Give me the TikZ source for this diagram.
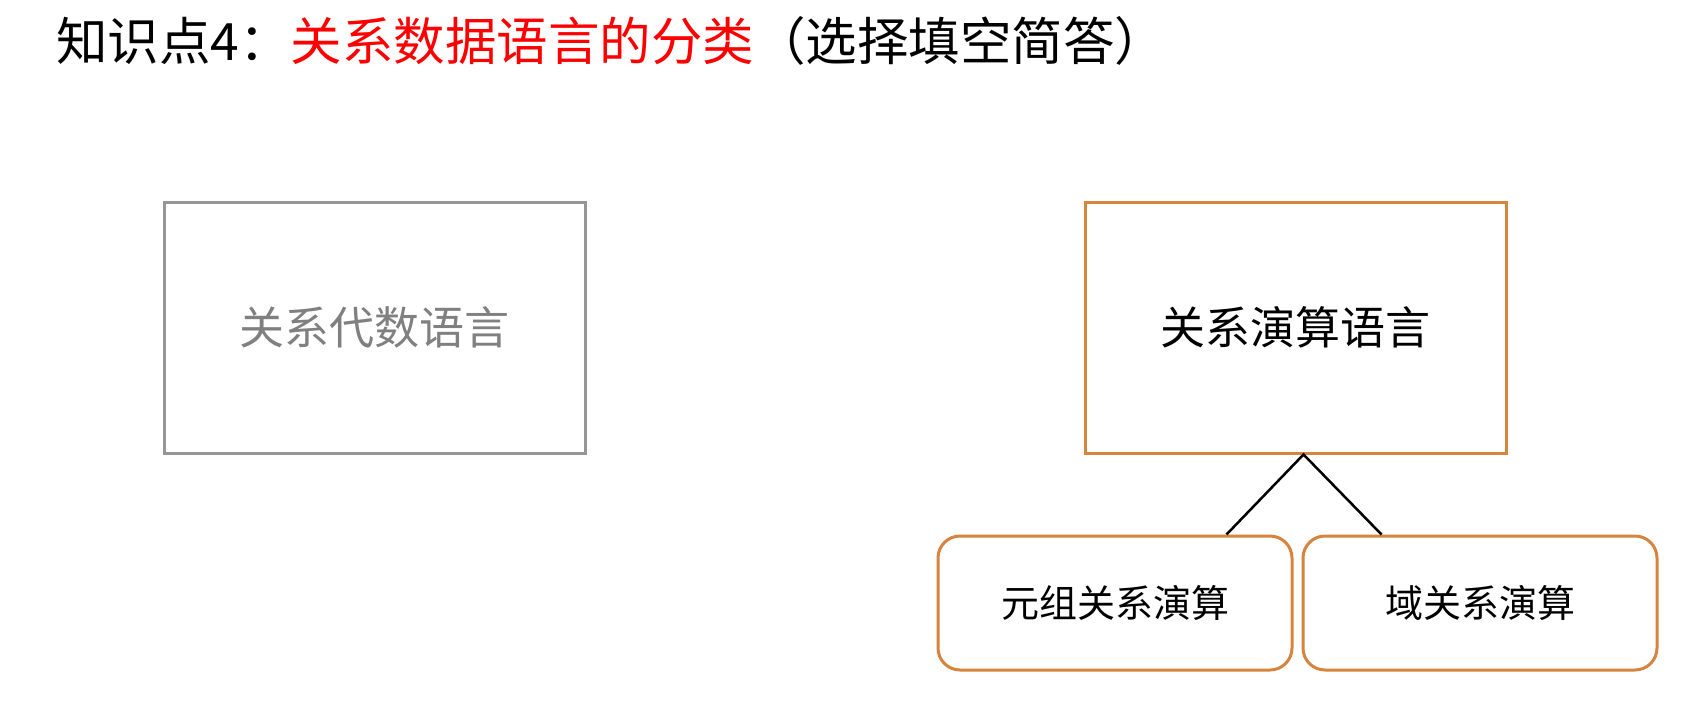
\documentclass[tikz,border=0pt]{standalone}
\usepackage{fontspec}
\newfontfamily\cjk{Noto Sans CJK SC}
\usetikzlibrary{calc}
\definecolor{boxorange}{RGB}{214,132,62}
\definecolor{boxgray}{RGB}{150,150,150}
\definecolor{txtgray}{RGB}{128,128,128}
\definecolor{titlered}{RGB}{255,0,0}
\begin{document}
\begin{tikzpicture}[x=1pt,y=1pt,
  graybox/.style={draw=boxgray,line width=3pt,minimum width=421pt,minimum height=251pt,inner sep=0pt,text=txtgray,font=\cjk\fontsize{45}{54}\selectfont},
  orangebox/.style={draw=boxorange,line width=3pt,minimum width=421pt,minimum height=251pt,inner sep=0pt,font=\cjk\fontsize{45}{54}\selectfont},
  subbox/.style={draw=boxorange,line width=3pt,rounded corners=22pt,minimum width=354pt,minimum height=134pt,inner sep=0pt,font=\cjk\fontsize{38}{46}\selectfont},
  link/.style={draw=black,line width=2.5pt}]
\useasboundingbox (0,0) rectangle (1690,-702);
\fill[white] (0,0) rectangle (1690,-702);
\node[anchor=base west,inner sep=0pt,font=\cjk\fontsize{51.5}{60}\selectfont] (title) at (56,-60)
  {知识点4：\textcolor{titlered}{关系数据语言的分类}（选择填空简答）};
\node[graybox] (alg) at (374.5,-327.5) {关系代数语言};
\node[orangebox] (calc) at (1295.5,-327.5) {关系演算语言};
\node[subbox] (tuple) at (1115,-603) {元组关系演算};
\node[subbox] (domain) at (1480,-603) {域关系演算};
\coordinate (apex) at ($(calc.south)+(8,0)$);
\coordinate (tl) at ($(tuple.north west)+(290,0)$);
\coordinate (dl) at ($(domain.north west)+(80,0)$);
\draw[link] (tl) -- (apex) -- (dl);
\end{tikzpicture}
\end{document}
